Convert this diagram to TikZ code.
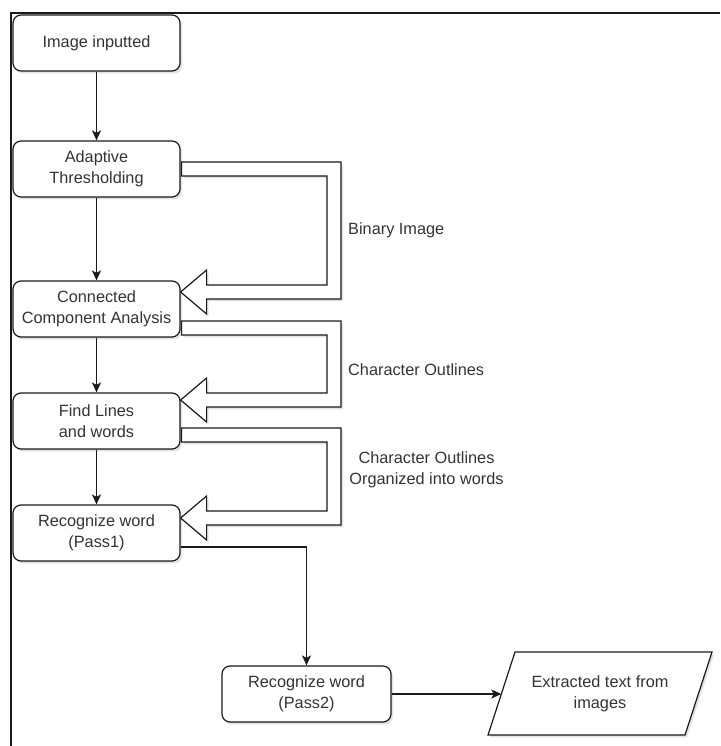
\documentclass[tikz,border=0pt]{standalone}
\usepackage{fontspec}
\setmainfont{Liberation Sans}
\usetikzlibrary{arrows.meta,shadows,calc}
\definecolor{ink}{HTML}{333333}
\definecolor{edge}{HTML}{1A1A1A}
\begin{document}
\begin{tikzpicture}[x=1pt,y=1pt,
  font=\fontsize{16.3}{20.6}\selectfont,
  softshadow/.style={drop shadow={shadow xshift=2pt,shadow yshift=-2.5pt,opacity=0.16,fill=black!70}},
  stepbox/.style={draw=edge,line width=1.2pt,rounded corners=8pt,fill=white,
    minimum width=167pt,minimum height=56pt,inner sep=0pt,align=center,text=ink,softshadow},
  flow/.style={draw=edge,line width=1.2pt,-{Stealth[length=10pt,width=9pt,inset=2.5pt]}},
  hollow/.style={draw=edge,line width=1.2pt,fill=white,line join=miter,softshadow},
  note/.style={text=ink,align=center,inner sep=0pt}]

\useasboundingbox (0,0) rectangle (720,746);

% hollow feedback arrow from #1 (shaft start centre) to #2 (tip)
\newcommand\hollowarrow[2]{%
  \path[hollow] let \p1=(#1), \p2=(#2) in
    (\x1+1pt,\y1+7pt) -- (341pt,\y1+7pt) -- (341pt,\y2-7pt)
    -- (\x2+26pt,\y2-7pt) -- (\x2+26pt,\y2-22pt) -- (\x2,\y2)
    -- (\x2+26pt,\y2+22pt) -- (\x2+26pt,\y2+7pt) -- (327pt,\y2+7pt)
    -- (327pt,\y1-7pt) -- (\x1+1pt,\y1-7pt) -- cycle;}

% main column of processing steps
\node[stepbox] (img)   at (96.5,703) {Image inputted};
\node[stepbox] (thr)   at (96.5,577) {Adaptive\\Thresholding};
\node[stepbox] (cca)   at (96.5,437) {Connected\\Component Analysis};
\node[stepbox] (lines) at (96.5,325) {Find Lines\\and words};
\node[stepbox] (p1)    at (96.5,213) {Recognize word\\(Pass1)};
\node[stepbox, minimum width=169pt] (p2) at (306.5,52) {Recognize word\\(Pass2)};

% output parallelogram
\coordinate (oc) at (600,52);
\path[hollow] ($(oc)+(-112,-41)$) -- ($(oc)+(85,-41)$) -- ($(oc)+(112,42)$)
  -- ($(oc)+(-85,42)$) -- cycle;
\node[note] (out) at (oc) {Extracted text from\\images};
\coordinate (outin) at ($(oc)+(-98.7,0)$);

% control flow
\draw[flow] (img) -- (thr);
\draw[flow] (thr) -- (cca);
\draw[flow] (cca) -- (lines);
\draw[flow] (lines) -- (p1);
\draw[flow] ([yshift=-14pt]p1.east) -| (p2.north);
\draw[flow] (p2.east) -- (outin);

% data passed between steps
\hollowarrow{thr.east}{$(cca.east)+(0,17)$}
\hollowarrow{$(cca.east)+(0,-19)$}{$(lines.east)+(0,21)$}
\hollowarrow{$(lines.east)+(0,-14)$}{$(p1.east)+(0,15)$}

\node[note, anchor=west] (lb1) at (348,516) {Binary Image};
\node[note, anchor=west] (lb2) at (348,376) {Character Outlines};
\node[note] (lb3) at (426.5,276) {Character Outlines\\Organized into words};

% outer frame
\draw[edge, line width=2pt] (11,0) -- (11,733) -- (720,733);
\end{tikzpicture}
\end{document}
